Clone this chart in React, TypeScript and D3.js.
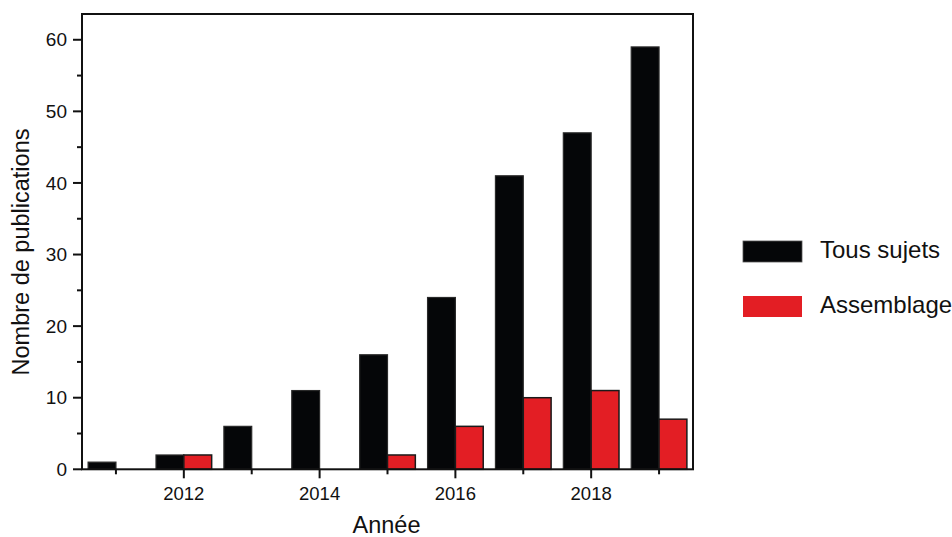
import React from "react";
import * as d3 from "d3";

const years = [2011, 2012, 2013, 2014, 2015, 2016, 2017, 2018, 2019];
const tousSujets = [1, 2, 6, 11, 16, 24, 41, 47, 59];
const assemblage = [0, 2, 0, 0, 2, 6, 10, 11, 7];
const yMajorTicks = [0, 10, 20, 30, 40, 50, 60];
const yMinorTicks = [5, 15, 25, 35, 45, 55];
const xMajorTicks = [2012, 2014, 2016, 2018];
const xMinorTicks = [2011, 2013, 2015, 2017, 2019];
const seriesNames = ["Tous sujets", "Assemblage"];
const seriesColors = ["#050608", "#e31e24"];

const W = 952;
const H = 537;
const left = 82;
const right = 693;
const top = 14;
const bottom = 469.3;
const FONT = "'Liberation Sans', Arial, Helvetica, sans-serif";

export default function App() {
  const x = d3.scaleLinear().domain([2010.5, 2019.5]).range([left, right]);
  const y = d3.scaleLinear().domain([0, 63.6]).range([bottom, top]);
  const bw = x(2011.41) - x(2011);

  return (
    <svg
      width={W}
      height={H}
      style={{ position: "absolute", left: 0, top: 0, background: "#fff" }}
      fontFamily={FONT}
    >
      {/* bars */}
      {years.map((yr, i) => (
        <g key={yr}>
          {tousSujets[i] > 0 && (
            <rect
              x={x(yr) - bw}
              y={y(tousSujets[i])}
              width={bw}
              height={y(0) - y(tousSujets[i])}
              fill={seriesColors[0]}
              stroke="#2a2a2a"
              strokeWidth={1.2}
            />
          )}
          {assemblage[i] > 0 && (
            <rect
              x={x(yr)}
              y={y(assemblage[i])}
              width={bw}
              height={y(0) - y(assemblage[i])}
              fill={seriesColors[1]}
              stroke="#1a1a1a"
              strokeWidth={1.5}
            />
          )}
        </g>
      ))}

      {/* frame */}
      <rect
        x={left}
        y={top}
        width={right - left}
        height={bottom - top}
        fill="none"
        stroke="#111"
        strokeWidth={2}
      />

      {/* y ticks */}
      {yMajorTicks.map((t) => (
        <g key={"ym" + t}>
          <line x1={left - 9} x2={left} y1={y(t)} y2={y(t)} stroke="#111" strokeWidth={2} />
          <text
            x={67}
            y={y(t)}
            dy="0.35em"
            textAnchor="end"
            fontSize={19}
            fill="#111"
          >
            {t}
          </text>
        </g>
      ))}
      {yMinorTicks.map((t) => (
        <line key={"yn" + t} x1={left - 5} x2={left} y1={y(t)} y2={y(t)} stroke="#111" strokeWidth={2} />
      ))}

      {/* x ticks */}
      {xMajorTicks.map((t) => (
        <g key={"xm" + t}>
          <line x1={x(t)} x2={x(t)} y1={bottom} y2={bottom + 9} stroke="#111" strokeWidth={2} />
          <text x={x(t)} y={500} textAnchor="middle" fontSize={18.5} fill="#111">
            {t}
          </text>
        </g>
      ))}
      {xMinorTicks.map((t) => (
        <line key={"xn" + t} x1={x(t)} x2={x(t)} y1={bottom} y2={bottom + 5} stroke="#111" strokeWidth={2} />
      ))}

      {/* axis titles */}
      <text x={(left + right) / 2 - 1} y={533} textAnchor="middle" fontSize={23.5} fill="#111">
        Année
      </text>
      <text
        transform={`translate(29, 252) rotate(-90)`}
        textAnchor="middle"
        fontSize={23.5}
        fill="#111"
      >
        Nombre de publications
      </text>

      {/* legend */}
      {seriesNames.map((name, i) => (
        <g key={name}>
          <rect
            x={743}
            y={241 + i * 55}
            width={59}
            height={21}
            fill={seriesColors[i]}
            stroke={i === 0 ? "#555" : "none"}
            strokeWidth={0.8}
          />
          <text x={820} y={258 + i * 55} fontSize={24} fill="#111">
            {name}
          </text>
        </g>
      ))}
    </svg>
  );
}
